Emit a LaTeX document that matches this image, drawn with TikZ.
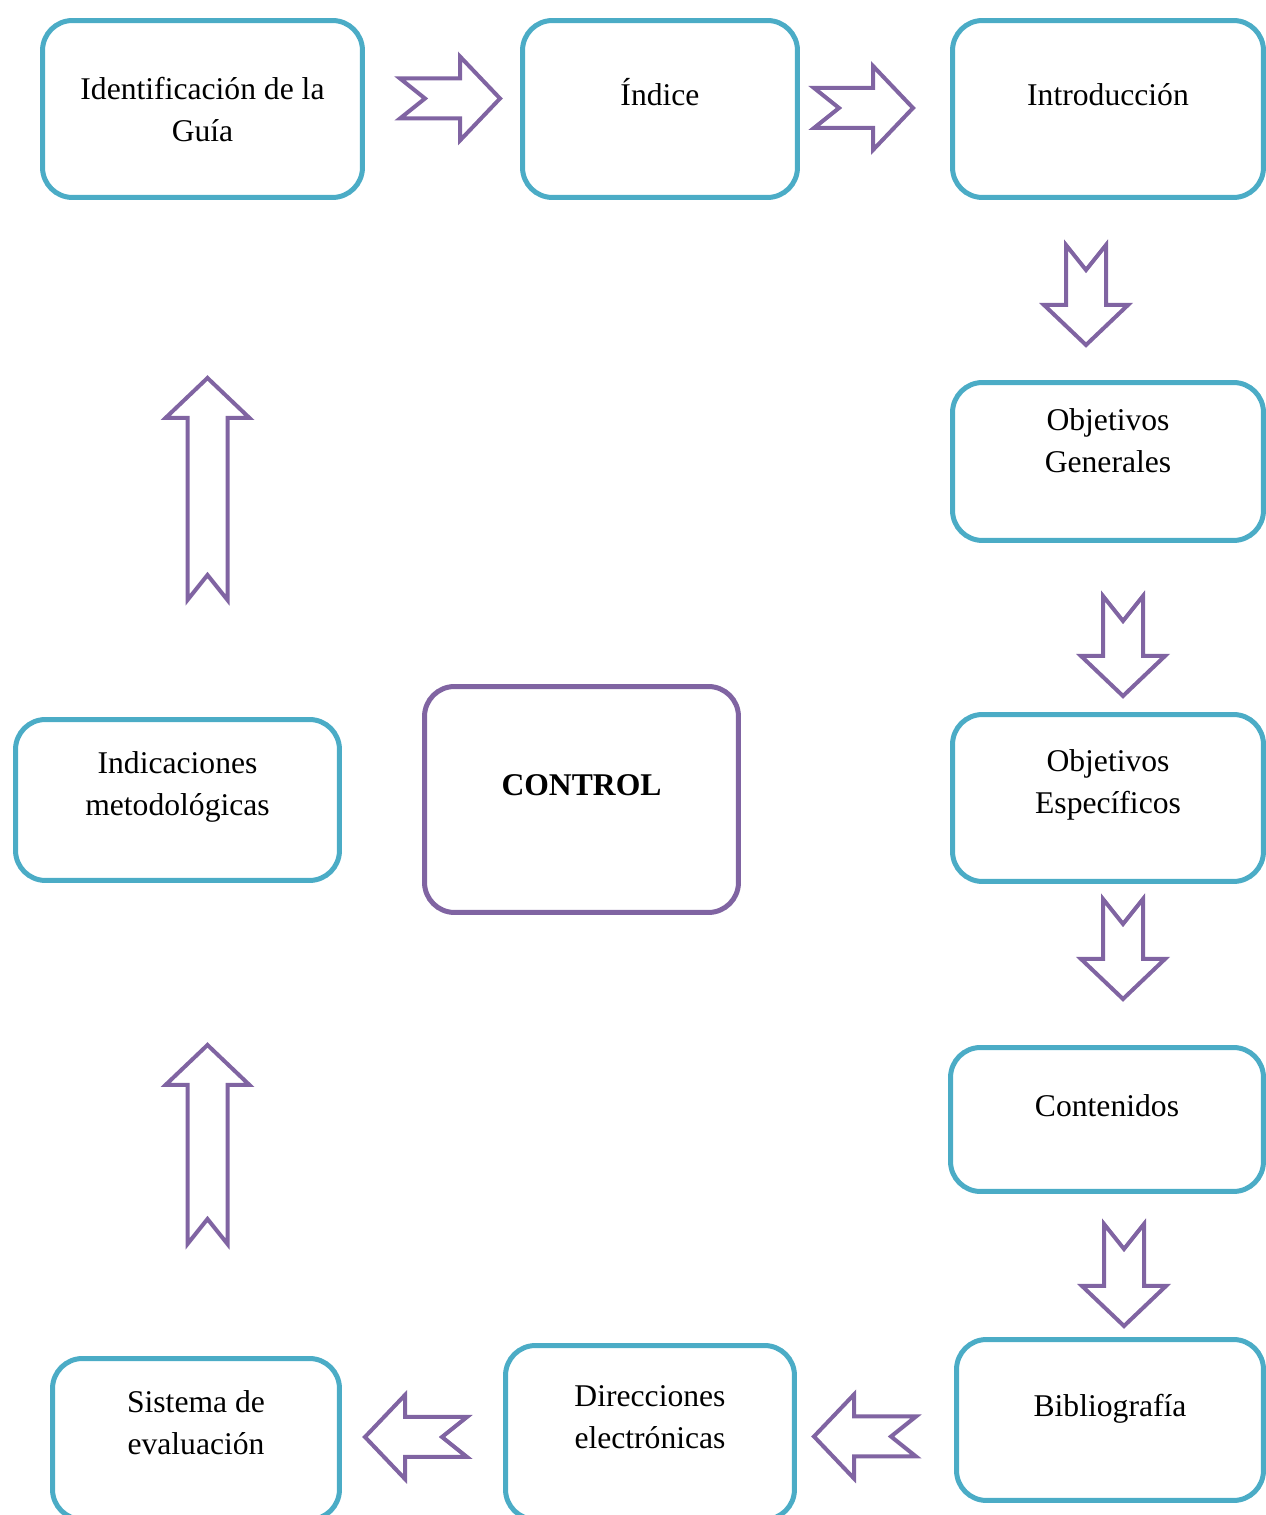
\documentclass[tikz,border=0pt]{standalone}
\usepackage{fontspec}
\setmainfont{Liberation Serif}
\definecolor{azul}{HTML}{4BACC6}
\definecolor{morado}{HTML}{8064A2}

\begin{document}
\begin{tikzpicture}[x=0.02cm, y=0.02cm]
        \tikzstyle{caja}=[rectangle, rounded corners=0.6cm, draw=azul, line width=0.1cm, font=\fontsize{18}{23.8}\selectfont, text=black]
        \tikzstyle{simple}=[text depth=21pt]
        \tikzstyle{doble}=[text depth=35pt]
        \tikzstyle{bloque}=[draw=morado, line width=0.08cm, line join=miter]
        \tikzset{pics/flecha/.style={code={
            \draw[bloque] (0,20) -- (#1-40,20) -- (#1-40,42) -- (#1,0) -- (#1-40,-42) -- (#1-40,-20) -- (0,-20) -- (25,0) -- cycle;}}}

        \useasboundingbox (0,0) rectangle (1266,1515);

        \node[caja, text depth=16pt, minimum width=6.4cm, minimum height=3.54cm] (guia) at (202.5,1406) {\begin{tabular}{c} Identificación de la \\ Guía \end{tabular}};
        \node[caja, simple, minimum width=5.5cm, minimum height=3.54cm] (indice) at (660,1406) {\begin{tabular}{c} Índice \end{tabular}};
        \node[caja, simple, minimum width=6.22cm, minimum height=3.54cm] (intro) at (1108,1406) {\begin{tabular}{c} Introducción \end{tabular}};
        \node[caja, text depth=40.6pt, minimum width=6.22cm, minimum height=3.16cm] (objgen) at (1108,1053.5) {\begin{tabular}{c} Objetivos \\ Generales \end{tabular}};
        \node[caja, doble, minimum width=6.22cm, minimum height=3.34cm] (objesp) at (1108,717) {\begin{tabular}{c} Objetivos \\ Específicos \end{tabular}};
        \node[caja, simple, minimum width=6.26cm, minimum height=2.88cm] (contenidos) at (1107,395.5) {\begin{tabular}{c} Contenidos \end{tabular}};
        \node[caja, simple, minimum width=6.14cm, minimum height=3.22cm] (biblio) at (1110,95) {\begin{tabular}{c} Bibliografía \end{tabular}};
        \node[caja, doble, minimum width=5.78cm, minimum height=3.48cm] (direcciones) at (650,82.5) {\begin{tabular}{c} Direcciones \\ electrónicas \end{tabular}};
        \node[caja, doble, minimum width=5.74cm, minimum height=3.22cm] (sistema) at (196,76) {\begin{tabular}{c} Sistema de \\ evaluación \end{tabular}};
        \node[caja, doble, minimum width=6.48cm, minimum height=3.22cm] (indicaciones) at (177.5,715) {\begin{tabular}{c} Indicaciones \\ metodológicas \end{tabular}};
        \node[caja, draw=morado, text depth=22pt, minimum width=6.28cm, minimum height=4.52cm] (control) at (581.5,715.5) {\begin{tabular}{c} \textbf{CONTROL} \end{tabular}};

        \pic at (400,1416.5) {flecha=100};
        \pic at (814,1407) {flecha=99};
        \pic[rotate=-90] at (1086,1270) {flecha=100};
        \pic[rotate=-90] at (1123,919) {flecha=100};
        \pic[rotate=-90] at (1123,616) {flecha=100};
        \pic[rotate=-90] at (1124,291) {flecha=102};
        \pic[rotate=180] at (916,78.5) {flecha=102};
        \pic[rotate=180] at (467,78) {flecha=102};
        \pic[rotate=90] at (207.5,915) {flecha=222};
        \pic[rotate=90] at (207.5,271) {flecha=199};
    \end{tikzpicture}
\end{document}
